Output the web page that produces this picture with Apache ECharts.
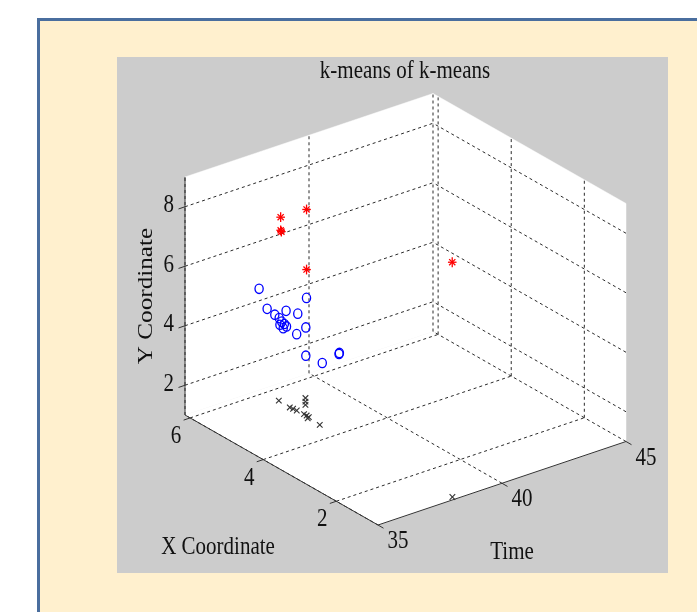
<!DOCTYPE html>
<html><head><meta charset="utf-8">
<script src="https://cdn.jsdelivr.net/npm/echarts@6/dist/echarts.min.js"></script>
<style>html,body{margin:0;padding:0;background:#fff;}#c{width:697px;height:612px;}</style>
</head><body><div id="c"></div>
<script>
// ---- axis ranges and ticks ----
const timeRange = [35, 45];
const xRange = [0.86, 6.14];
const yRange = [1, 9];
const timeTicks = [35, 40, 45];
const xTicks = [2, 4, 6];
const yTicks = [2, 4, 6, 8];

// ---- data (Time, X Coordinate, Y Coordinate) ----
const redTime = [37, 37, 37, 38, 38, 41];
const redX    = [4.88, 4.88, 4.86, 4.85, 4.85, 2.90];
const redY    = [7.97, 7.53, 7.50, 7.97, 5.95, 6.72];

const blueTime = [37, 39, 37, 37, 38, 38, 37, 37, 37, 37, 37, 37, 38, 38, 38, 38, 39, 39];
const blueX    = [5.47, 5.53, 5.25, 5.04, 5.41, 5.09, 4.92, 4.85, 4.78, 4.72, 4.90, 4.81, 4.87, 5.12, 4.87, 4.42, 4.64, 4.63];
const blueY    = [5.15, 4.24, 4.63, 4.58, 4.17, 4.30, 4.55, 4.48, 4.45, 4.41, 4.34, 4.29, 3.99, 3.59, 3.04, 3.11, 2.98, 3.02];

const blackTime = [37, 37, 37, 37, 38, 38, 38, 37, 37, 37, 37, 37, 38];
const blackX    = [4.93, 4.63, 4.54, 4.44, 4.88, 4.88, 4.88, 4.24, 4.17, 4.11, 4.14, 3.81, 0.86];
const blackY    = [1.77, 1.75, 1.77, 1.78, 1.61, 1.49, 1.38, 1.80, 1.80, 1.79, 1.73, 1.74, 1.10];

// ---- 3D view projection (layout) ----
const O  = [185, 415];   // (Tmin, Xmax, Ymin)
const VT = [248, -83.5]; // full time range
const VX = [193, 110];   // full X range, Xmax -> Xmin
const VY = [0, -238];    // full Y range
function proj(t, x, y) {
  const a = (t - timeRange[0]) / (timeRange[1] - timeRange[0]);
  const b = (xRange[1] - x) / (xRange[1] - xRange[0]);
  const c = (y - yRange[0]) / (yRange[1] - yRange[0]);
  return [O[0] + a * VT[0] + b * VX[0] + c * VY[0], O[1] + a * VT[1] + b * VX[1] + c * VY[1]];
}
const FONT = '21px "Liberation Serif", "Times New Roman", serif';
const SY = 1.2;
function txt(x, y, s, align, extra) {
  return Object.assign({
    type: 'text', x: x, y: y, scaleY: SY, silent: true,
    style: { text: s, font: FONT, fill: '#111', align: align || 'center', textAlign: align || 'center', verticalAlign: 'middle', textVerticalAlign: 'middle' }
  }, extra || {});
}

function renderBox(params, api) {
  const P = (t, x, y) => api.coord(proj(t, x, y));
  const t0 = timeRange[0], t1 = timeRange[1], x0 = xRange[0], x1 = xRange[1], y0 = yRange[0], y1 = yRange[1];
  const ch = [];
  const poly = pts => ({ type: 'polygon', shape: { points: pts }, style: { fill: '#ffffff', stroke: '#ffffff', lineWidth: 0.5 }, silent: true });
  ch.push(poly([P(t0, x1, y0), P(t1, x1, y0), P(t1, x0, y0), P(t0, x0, y0)]));
  ch.push(poly([P(t0, x1, y0), P(t1, x1, y0), P(t1, x1, y1), P(t0, x1, y1)]));
  ch.push(poly([P(t1, x1, y0), P(t1, x0, y0), P(t1, x0, y1), P(t1, x1, y1)]));
  const seg = (a, b, dashed, col) => ({ type: 'line', silent: true, shape: { x1: a[0], y1: a[1], x2: b[0], y2: b[1] },
    style: { stroke: col || '#2b2b2b', lineWidth: 1, lineDash: dashed ? [3, 3] : null } });
  // floor grid
  xTicks.forEach(v => ch.push(seg(P(t0, v, y0), P(t1, v, y0), true)));
  timeTicks.forEach(v => ch.push(seg(P(v, x0, y0), P(v, x1, y0), true)));
  // back-left wall (X = max)
  yTicks.forEach(v => ch.push(seg(P(t0, x1, v), P(t1, x1, v), true)));
  timeTicks.forEach(v => ch.push(seg(P(v, x1, y0), P(v, x1, y1), true)));
  // back-right wall (Time = max)
  yTicks.forEach(v => ch.push(seg(P(t1, x0, v), P(t1, x1, v), true)));
  xTicks.forEach(v => ch.push(seg(P(t1, v, y0), P(t1, v, y1), true)));
  // solid axes
  ch.push(seg(P(t0, x1, y0), P(t0, x1, y1), false, '#333'));
  ch.push(seg(P(t0, x1, y0), P(t0, x0, y0), false, '#333'));
  ch.push(seg(P(t0, x0, y0), P(t1, x0, y0), false, '#333'));
  // ticks + labels
  yTicks.forEach(v => { const p = P(t0, x1, v); ch.push(seg(p, [p[0] - 6.5, p[1] + 2.2], false, '#333')); ch.push(txt(p[0] - 11, p[1] - 1, String(v), 'right')); });
  xTicks.forEach(v => { const p = P(t0, v, y0); ch.push(seg(p, [p[0] - 6.5, p[1] + 2.2], false, '#333')); ch.push(txt(p[0] - 14, p[1] + 18.5, String(v), 'center')); });
  timeTicks.forEach(v => { const p = P(v, x0, y0); ch.push(seg(p, [p[0] + 5.5, p[1] + 3.2], false, '#333')); ch.push(txt(p[0] + 20, p[1] + 16.5, String(v), 'center')); });
  return { type: 'group', children: ch };
}

function makeData(ts, xs, ys) { return ts.map((t, i) => [t, xs[i], ys[i]]); }

function renderStar(params, api) {
  const c = api.coord(proj(api.value(0), api.value(1), api.value(2)));
  const r = 4.3, d = 3.1, st = { stroke: '#ff0000', lineWidth: 1.3 };
  const L = (a, b, e, f) => ({ type: 'line', shape: { x1: c[0] + a, y1: c[1] + b, x2: c[0] + e, y2: c[1] + f }, style: st });
  return { type: 'group', children: [L(-r, 0, r, 0), L(0, -r - 0.6, 0, r + 0.6), L(-d, -d, d, d), L(-d, d, d, -d)] };
}
function renderCircle(params, api) {
  const c = api.coord(proj(api.value(0), api.value(1), api.value(2)));
  return { type: 'ellipse', shape: { cx: c[0], cy: c[1], rx: 4.1, ry: 4.7 }, style: { fill: null, stroke: '#0000ff', lineWidth: 1.3 } };
}
function renderCross(params, api) {
  const c = api.coord(proj(api.value(0), api.value(1), api.value(2)));
  const r = 2.8, st = { stroke: '#333', lineWidth: 1.1 };
  return { type: 'group', children: [
    { type: 'line', shape: { x1: c[0] - r, y1: c[1] - r, x2: c[0] + r, y2: c[1] + r }, style: st },
    { type: 'line', shape: { x1: c[0] - r, y1: c[1] + r, x2: c[0] + r, y2: c[1] - r }, style: st }
  ] };
}

const chart = echarts.init(document.getElementById('c'), null, { renderer: 'canvas' });
chart.setOption({
  animation: false,
  backgroundColor: '#ffffff',
  grid: { left: 0, right: 0, top: 0, bottom: 0, show: false },
  xAxis: { type: 'value', min: 0, max: 697, show: false },
  yAxis: { type: 'value', min: 0, max: 612, inverse: true, show: false },
  graphic: [
    { type: 'rect', z: -10, silent: true, shape: { x: 38.5, y: 19.5, width: 700, height: 620 }, style: { fill: '#FFF0CE', stroke: '#4A6E9E', lineWidth: 3 } },
    { type: 'rect', z: -9, silent: true, shape: { x: 117, y: 57, width: 551, height: 516 }, style: { fill: '#CCCCCC' } },
    txt(405, 71, 'k-means of k-means', 'center', { z: 50 }),
    txt(218, 547, 'X Coordinate', 'center', { z: 50 }),
    txt(512, 552, 'Time', 'center', { z: 50 }),
    { type: 'text', z: 50, silent: true, x: 146, y: 296, rotation: Math.PI / 2, scaleX: SY,
      style: { text: 'Y Coordinate', font: FONT, fill: '#111', align: 'center', textAlign: 'center', verticalAlign: 'middle', textVerticalAlign: 'middle' } }
  ],
  series: [
    { type: 'custom', name: 'box', coordinateSystem: 'cartesian2d', z: 2, clip: false, silent: true, data: [[0, 0]], renderItem: renderBox },
    { type: 'custom', name: 'cluster 3', coordinateSystem: 'cartesian2d', z: 3, clip: false, silent: true, data: makeData(blackTime, blackX, blackY), renderItem: renderCross },
    { type: 'custom', name: 'cluster 2', coordinateSystem: 'cartesian2d', z: 4, clip: false, silent: true, data: makeData(blueTime, blueX, blueY), renderItem: renderCircle },
    { type: 'custom', name: 'cluster 1', coordinateSystem: 'cartesian2d', z: 5, clip: false, silent: true, data: makeData(redTime, redX, redY), renderItem: renderStar }
  ]
});
</script>
</body></html>
